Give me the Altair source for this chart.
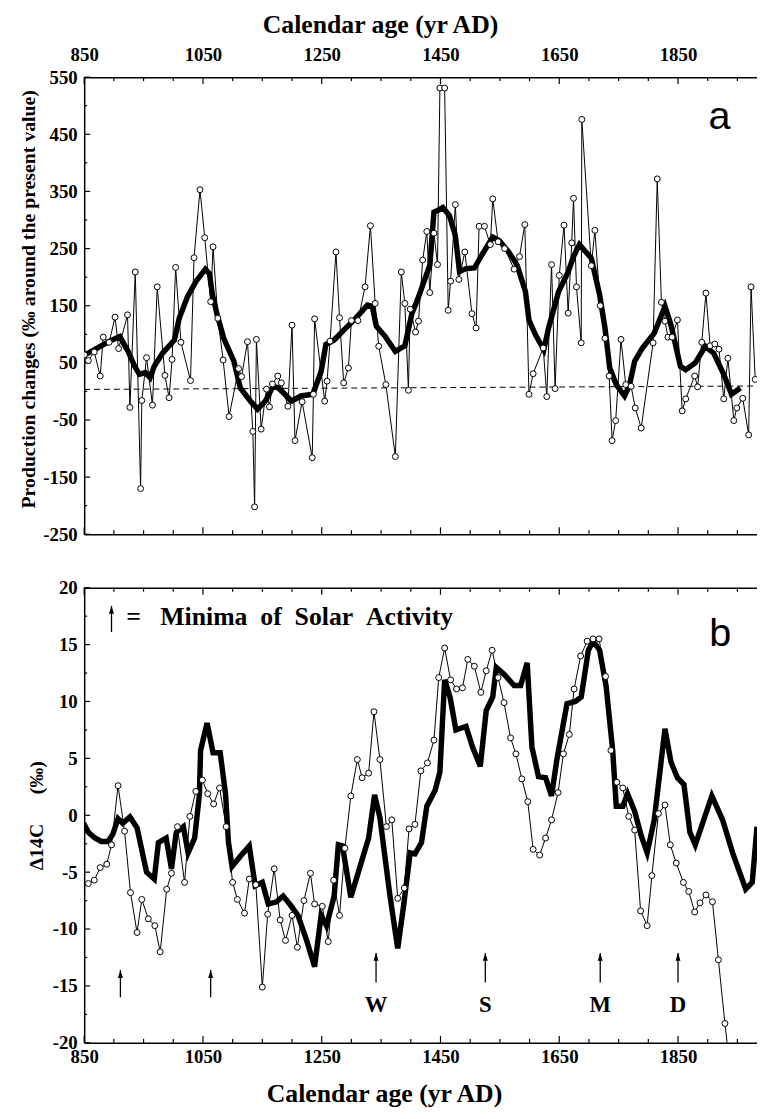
import altair as alt
import pandas as pd

NB = "\u00a0"
SERIF = "Liberation Serif"
SANS = "Liberation Sans"

# ---------------- panel a : production changes (‰ around present value) ----------------
a_years = [850.5, 857, 867, 877, 882, 892, 902, 908, 923, 927, 936, 945, 947, 955, 965, 973, 986, 993, 998,
           1004, 1013, 1029, 1035, 1045, 1053, 1063, 1067, 1075, 1084, 1094, 1110, 1115, 1125, 1134, 1137,
           1140, 1148, 1157, 1162, 1167, 1176, 1182, 1193, 1200, 1205, 1217, 1234, 1236, 1238, 1255, 1259,
           1264, 1274, 1280, 1287, 1295, 1300, 1311, 1323, 1332, 1340, 1346, 1358, 1374, 1384, 1390, 1396,
           1399, 1408, 1413, 1420, 1427, 1432, 1439, 1445, 1449, 1457, 1463, 1467, 1475, 1481, 1491, 1503,
           1510, 1515, 1524, 1534, 1538, 1547, 1558, 1574, 1583, 1592, 1599, 1606, 1623, 1629, 1637, 1643,
           1650, 1658, 1665, 1671, 1674, 1679, 1687, 1688, 1704, 1710, 1719, 1727, 1734, 1739, 1745, 1754,
           1762, 1771, 1778, 1788, 1808, 1815, 1822, 1828, 1833, 1840, 1849, 1857, 1863, 1878, 1883, 1890,
           1897, 1904, 1912, 1919, 1927, 1934, 1944, 1949, 1959, 1969, 1973, 1980]
a_values = [64, 54, 69, 27, 95, 86, 130, 75, 134, -28, 209, -170, -16, 59, -24, 183, 28, -11, 56,
            217, 86, 19, 234, 353, 269, 157, 253, 128, 55, -44, 40, 26, 87, -70, -202,
            91, -66, 4, -27, 13, 27, 15, -26, 116, -86, -18, -116, -5, 127, -17, 18,
            88, 244, 129, 15, 41, 124, 124, 183, 290, 154, 79, 12, -114, 209, 154, 2,
            144, 104, 123, 230, 280, 173, 277, 222, 531, 531, 142, 193, 327, 196, 244, 136,
            111, 289, 289, 257, 337, 262, 250, 214, 236, 292, -5, 31, 76, -9, 222, 5,
            203, 291, 137, 260, 338, 183, 85, 476, 220, 282, 150, 93, 27, -86, -51, 91,
            12, 9, -29, -64, 85, 372, 156, 123, 95, 95, 125, -34, -13, 27, 8, 86,
            172, 80, 83, 74, -13, 58, -51, -29, -12, -76, 183, 21]
a_smooth_years = [849, 857, 877, 893, 910, 924, 935, 943, 953, 961, 968, 982, 1002, 1010, 1024, 1038, 1054,
                  1061, 1066, 1074, 1085, 1102, 1113, 1130, 1142, 1155, 1168, 1177, 1188, 1199, 1215, 1235,
                  1249, 1257, 1271, 1288, 1307, 1327, 1335, 1342, 1357, 1374, 1390, 1402, 1410, 1418, 1432,
                  1439, 1446, 1454, 1465, 1475, 1482, 1493, 1507, 1521, 1538, 1549, 1565, 1579, 1593, 1599,
                  1610, 1624, 1632, 1649, 1665, 1674, 1684, 1704, 1718, 1727, 1735, 1746, 1760, 1768, 1777,
                  1790, 1810, 1828, 1838, 1854, 1863, 1879, 1896, 1910, 1927, 1940, 1955]
a_smooth_values = [64, 67, 79, 88, 96, 70, 44, 30, 33, 24, 44, 67, 90, 128, 166, 192, 214,
                   206, 169, 134, 93, 53, 6, -17, -31, -17, 9, 6, -5, -17, -8, -5,
                   35, 82, 90, 108, 128, 151, 149, 114, 96, 70, 80, 137, 157, 180, 221,
                   314, 317, 322, 308, 273, 210, 215, 216, 241, 270, 264, 244, 221, 175, 125,
                   99, 73, 111, 175, 209, 236, 257, 233, 169, 111, 41, 12, -8, 10, 53,
                   76, 102, 149, 117, 44, 38, 50, 79, 67, 30, -5, 6]
a_ref_years = [850, 1983]
a_ref_values = [3.5, 9.5]

# ---------------- panel b : Δ14C (‰) ----------------
b_years = [857, 867, 877, 888, 896, 907, 918, 928, 939, 947, 958, 969, 978, 989, 997, 1007, 1019, 1028,
           1038, 1049, 1058, 1068, 1078, 1089, 1100, 1108, 1120, 1128, 1139, 1150, 1159, 1170, 1180, 1189,
           1200, 1209, 1220, 1231, 1238, 1251, 1261, 1270, 1280, 1289, 1299, 1310, 1318, 1329, 1338, 1348,
           1359, 1368, 1378, 1389, 1397, 1407, 1417, 1428, 1439, 1447, 1457, 1467, 1477, 1487, 1496, 1507,
           1518, 1527, 1537, 1547, 1557, 1568, 1577, 1587, 1597, 1606, 1617, 1627, 1637, 1648, 1657, 1667,
           1675, 1686, 1697, 1707, 1717, 1728, 1737, 1747, 1757, 1767, 1777, 1787, 1798, 1806, 1817, 1828,
           1837, 1847, 1859, 1868, 1878, 1887, 1897, 1908, 1918, 1929, 1937]
b_values = [-6.0, -5.7, -4.6, -4.3, -2.6, 2.6, -1.4, -6.8, -10.3, -7.4, -9.1, -9.7, -12.0, -6.5, -5.1, -1.0, -5.9, -0.1,
            2.1, 3.1, 1.9, 1.0, 2.4, -1.0, -5.9, -7.4, -8.6, -5.6, -6.1, -15.1, -8.7, -4.7, -9.2, -11.0,
            -8.8, -11.6, -7.5, -5.1, -7.8, -8.0, -11.1, -5.7, -8.8, -2.9, 1.7, 4.9, 3.3, 3.7, 9.1, 4.9,
            -1.0, -0.4, -7.3, -6.4, -1.2, -0.8, 3.9, 4.6, 6.6, 12.1, 14.7, 11.9, 11.1, 11.2, 13.7, 13.1,
            10.8, 12.7, 14.5, 12.1, 9.9, 6.8, 5.4, 3.2, 1.2, -3.0, -3.5, -2.0, -0.4, 2.0, 5.4, 7.1,
            11.1, 14.0, 15.3, 15.5, 15.5, 12.2, 5.7, 2.9, 2.4, -0.1, -1.3, -8.4, -9.7, -5.3, 0.15, 0.9,
            -2.6, -4.2, -5.9, -6.7, -8.5, -7.7, -7.0, -7.6, -12.7, -18.3, -22.0]
b_smooth_years = [849, 857, 868, 879, 890, 898, 907, 915, 927, 939, 955, 968, 975, 988, 997, 1005, 1017, 1025,
                  1036, 1044, 1046, 1057, 1067, 1079, 1088, 1093, 1099, 1113, 1128, 1138, 1150, 1160, 1174,
                  1185, 1196, 1210, 1224, 1238, 1249, 1258, 1271, 1278, 1285, 1299, 1314, 1329, 1339, 1348,
                  1365, 1378, 1388, 1399, 1407, 1418, 1427, 1441, 1449, 1457, 1466, 1476, 1493, 1504, 1517,
                  1527, 1538, 1544, 1557, 1574, 1585, 1596, 1604, 1615, 1627, 1637, 1646, 1663, 1677, 1687,
                  1699, 1707, 1718, 1729, 1740, 1746, 1757, 1765, 1777, 1788, 1798, 1810, 1828, 1838, 1849,
                  1860, 1870, 1879, 1907, 1925, 1942, 1964, 1975, 1983]
b_smooth_values = [-0.7, -1.5, -2.0, -2.3, -2.3, -1.7, -0.3, -0.7, -0.15, -1.1, -5.0, -5.6, -2.4, -2.0, -4.7, -1.5, -1.0, -3.3,
                   -2.0, 1.8, 5.7, 8.1, 5.5, 5.5, 1.9, -2.4, -4.5, -3.6, -2.7, -6.2, -5.9, -7.8, -7.6,
                   -7.1, -7.8, -8.8, -10.9, -13.3, -8.8, -9.7, -7.1, -2.6, -2.7, -7.2, -4.6, -2.0, 1.8, -0.2,
                   -7.1, -11.7, -7.9, -3.3, -3.4, -2.4, 0.8, 2.2, 3.8, 11.9, 10.4, 7.5, 7.8, 6.0, 4.3,
                   9.2, 10.4, 13.0, 12.4, 11.4, 11.4, 13.4, 6.0, 3.4, 3.3, 1.7, 4.9, 9.8, 10.0, 10.4,
                   14.5, 15.3, 14.5, 11.3, 5.7, 0.8, 0.8, 1.9, 0.35, -1.8, -3.3, -0.4, 7.6, 4.7, 3.3,
                   2.7, -1.5, -2.6, 1.7, -0.4, -3.3, -6.5, -5.9, -1.0]

# ---------------- solar minima annotations ----------------
min_years = [911, 1063, 1341.5, 1525.5, 1719, 1850]
min_tail = [-16.0, -16.0, -14.7, -14.7, -14.7, -14.7]
min_tip = [-13.6, -13.6, -12.1, -12.1, -12.1, -12.1]
min_letter_years = [1341.5, 1525.5, 1719, 1850]
min_letters = ["W", "S", "M", "D"]
min_letter_vals = [-17.25, -17.25, -17.25, -17.25]

legend_arrow_year = [896]
legend_arrow_tail = [16.1]
legend_arrow_tip = [18.4]
legend_text = ["=" + NB * 3 + "Minima" + NB * 2 + "of" + NB * 2 + "Solar" + NB * 2 + "Activity"]
legend_year = [921]
legend_val = [16.7]

panel_a_label = ["a"]
panel_a_year = [1920]
panel_a_val = [460]
panel_b_label = ["b"]
panel_b_year = [1921]
panel_b_val = [14.9]

# ---------------- axis ticks ----------------
x_major = [850, 1050, 1250, 1450, 1650, 1850]
x_minor = [y for y in range(850, 1951, 50) if y not in x_major]
a_y_major = list(range(-250, 551, 100))
a_y_minor = list(range(-200, 501, 100))
b_y_major = list(range(-20, 21, 5))
b_y_minor = [v + 2.5 for v in range(-20, 20, 5)]

W = 680
HA = 462
HB = 460
XS = alt.Scale(domain=[850, 1983], nice=False, zero=False)
YA = alt.Scale(domain=[-250, 550], nice=False, zero=False)
YB = alt.Scale(domain=[-20, 20], nice=False, zero=False)

AX = dict(grid=False, ticks=False, domainColor="black", domainWidth=1.5,
          labelFont=SERIF, labelFontWeight="bold", labelFontSize=19, labelColor="black",
          titleFont=SERIF, titleFontWeight="bold", titleColor="black")
LBL = "'' + datum.value"


def tick_layers(ys, H, y_major, y_minor):
    layers = []
    for vals, L in ((x_major, 7), (x_minor, 4)):
        df = pd.DataFrame({"year": vals})
        base = alt.Chart(df).mark_rule(color="black", strokeWidth=1.2)
        layers.append(base.encode(x=alt.X("year:Q", scale=XS, axis=None), y=alt.value(0), y2=alt.value(L)))
        layers.append(base.encode(x=alt.X("year:Q", scale=XS, axis=None), y=alt.value(H), y2=alt.value(H - L)))
    for vals, L in ((y_major, 6), (y_minor, 3)):
        df = pd.DataFrame({"v": vals})
        layers.append(alt.Chart(df).mark_rule(color="black", strokeWidth=1.2).encode(
            y=alt.Y("v:Q", scale=ys, axis=None), x=alt.value(0), x2=alt.value(L)))
    return layers


def xq(axis):
    return alt.X("year:Q", scale=XS, axis=axis)


# ---------------- panel a ----------------
a_pts = pd.DataFrame({"year": a_years, "v": a_values})
a_sm = pd.DataFrame({"year": a_smooth_years, "v": a_smooth_values})
a_ref = pd.DataFrame({"year": a_ref_years, "v": a_ref_values})

a_dash = alt.Chart(a_ref).mark_line(color="black", strokeWidth=1, strokeDash=[6, 4], clip=True).encode(
    x=xq(None), y=alt.Y("v:Q", scale=YA, axis=None))
a_thick = alt.Chart(a_sm).mark_line(color="black", strokeWidth=5.5, strokeMiterLimit=4, clip=True).encode(
    x=xq(alt.Axis(orient="top", values=x_major, labelExpr=LBL, labelFlush=False, labelPadding=13,
                  title="Calendar age (yr AD)", titleFontSize=26, titleX=299, titlePadding=8, **AX)),
    y=alt.Y("v:Q", scale=YA, axis=alt.Axis(orient="left", values=a_y_major, labelExpr=LBL, labelPadding=7,
                                          title="Production changes (‰ around the present value)",
                                          titleFontSize=20, titleX=-56, titleY=224, titleBaseline="middle",
                                          **AX)))
a_thin = alt.Chart(a_pts).mark_line(color="black", strokeWidth=1, clip=True).encode(
    x=xq(alt.Axis(orient="bottom", values=x_major, labels=False, title=None, **AX)),
    y=alt.Y("v:Q", scale=YA, axis=None))
a_circ = alt.Chart(a_pts).mark_circle(fill="white", stroke="black", strokeWidth=1, size=36, opacity=1,
                                      clip=True).encode(x=xq(None), y=alt.Y("v:Q", scale=YA, axis=None))
a_lab = alt.Chart(pd.DataFrame({"year": panel_a_year, "v": panel_a_val, "t": panel_a_label})).mark_text(
    font=SANS, fontSize=40, align="center", baseline="alphabetic", color="black").encode(
    x=xq(None), y=alt.Y("v:Q", scale=YA, axis=None), text="t:N")

top = alt.layer(*tick_layers(YA, HA, a_y_major, a_y_minor), a_dash, a_thick, a_thin, a_circ, a_lab
                ).resolve_axis(x="independent", y="independent").properties(width=W, height=HA)

# ---------------- panel b ----------------
b_pts = pd.DataFrame({"year": b_years, "v": b_values})
b_sm = pd.DataFrame({"year": b_smooth_years, "v": b_smooth_values})
arrows = pd.DataFrame({"year": min_years + legend_arrow_year, "tail": min_tail + legend_arrow_tail,
                       "tip": min_tip + legend_arrow_tip})
letters = pd.DataFrame({"year": min_letter_years, "v": min_letter_vals, "t": min_letters})
legend = pd.DataFrame({"year": legend_year, "v": legend_val, "t": legend_text})

b_thick = alt.Chart(b_sm).mark_line(color="black", strokeWidth=5.5, strokeMiterLimit=4, clip=True).encode(
    x=xq(alt.Axis(orient="bottom", values=x_major, labelExpr=LBL, labelFlush=False, labelPadding=5,
                  title="Calendar age (yr AD)", titleFontSize=26, titleX=303, titlePadding=14, **AX)),
    y=alt.Y("v:Q", scale=YB, axis=alt.Axis(orient="left", values=b_y_major, labelExpr=LBL, labelPadding=7,
                                          title="Δ14C" + NB * 6 + "(‰)", titleFontSize=20, titleX=-48,
                                          titleBaseline="middle", **AX)))
b_thin = alt.Chart(b_pts).mark_line(color="black", strokeWidth=1, clip=True).encode(
    x=xq(alt.Axis(orient="top", values=x_major, labels=False, title=None, **AX)),
    y=alt.Y("v:Q", scale=YB, axis=None))
b_circ = alt.Chart(b_pts).mark_circle(fill="white", stroke="black", strokeWidth=1, size=36, opacity=1,
                                      clip=True).encode(x=xq(None), y=alt.Y("v:Q", scale=YB, axis=None))
b_shaft = alt.Chart(arrows).mark_rule(color="black", strokeWidth=1.3).encode(
    x=xq(None), y=alt.Y("tail:Q", scale=YB, axis=None), y2="tip:Q")
b_head = alt.Chart(arrows).mark_point(shape="M0,-1L0.5,0.6L-0.5,0.6Z", filled=True, color="black", size=100,
                                      opacity=1, yOffset=5).encode(
    x=xq(None), y=alt.Y("tip:Q", scale=YB, axis=None))
b_letters = alt.Chart(letters).mark_text(font=SERIF, fontWeight="bold", fontSize=23, align="center",
                                         baseline="alphabetic", color="black").encode(
    x=xq(None), y=alt.Y("v:Q", scale=YB, axis=None), text="t:N")
b_legend = alt.Chart(legend).mark_text(font=SERIF, fontWeight="bold", fontSize=26, align="left",
                                       baseline="alphabetic", color="black").encode(
    x=xq(None), y=alt.Y("v:Q", scale=YB, axis=None), text="t:N")
b_lab = alt.Chart(pd.DataFrame({"year": panel_b_year, "v": panel_b_val, "t": panel_b_label})).mark_text(
    font=SANS, fontSize=40, align="center", baseline="alphabetic", color="black").encode(
    x=xq(None), y=alt.Y("v:Q", scale=YB, axis=None), text="t:N")

bottom = alt.layer(*tick_layers(YB, HB, b_y_major, b_y_minor), b_thick, b_thin, b_circ, b_shaft, b_head,
                   b_letters, b_legend, b_lab).resolve_axis(x="independent", y="independent"
                                                           ).properties(width=W, height=HB)

chart = alt.vconcat(top, bottom, spacing=35).properties(
    padding={"left": 10, "top": -2, "right": 0, "bottom": 0}, background="white"
).configure_view(strokeWidth=0)

chart.save("out.html", embed_options={"renderer": "svg", "actions": False})
